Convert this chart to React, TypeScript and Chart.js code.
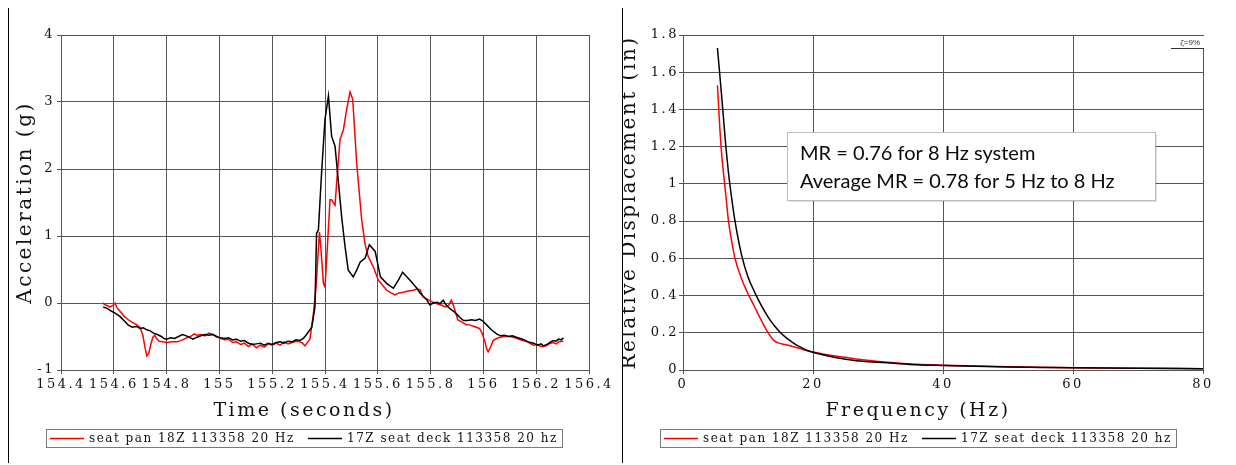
import { useEffect, useRef } from "react";
import { Chart, registerables } from "chart.js";

Chart.register(...registerables);

// ---------- data ----------
const seriesLabels = ["seat pan 18Z 113358 20 Hz", "17Z seat deck 113358 20 hz"];
const seriesColors = ["#ff0000", "#000000"];

// Left chart: acceleration (g) vs time (s) — seat pan (red)
const panTime = [
  154.558, 154.57, 154.585, 154.595, 154.605, 154.612, 154.625, 154.64, 154.655, 154.67,
  154.685, 154.7, 154.71, 154.718, 154.725, 154.732, 154.74, 154.748, 154.755, 154.762,
  154.772, 154.785, 154.8, 154.82, 154.84, 154.86, 154.875, 154.89, 154.905, 154.915,
  154.93, 154.945, 154.96, 154.975, 154.99, 155.005, 155.02, 155.035, 155.05, 155.065,
  155.08, 155.095, 155.11, 155.125, 155.14, 155.155, 155.17, 155.185, 155.2, 155.215,
  155.23, 155.245, 155.26, 155.275, 155.29, 155.305, 155.315, 155.324, 155.335, 155.343,
  155.356, 155.366, 155.379, 155.384, 155.394, 155.4, 155.409, 155.419, 155.425, 155.438,
  155.447, 155.457, 155.47, 155.482, 155.495, 155.505, 155.52, 155.539, 155.552, 155.564,
  155.583, 155.602, 155.615, 155.634, 155.65, 155.665, 155.68, 155.697, 155.715, 155.734,
  155.748, 155.76, 155.772, 155.79, 155.81, 155.825, 155.84, 155.855, 155.868, 155.878,
  155.885, 155.893, 155.903, 155.92, 155.934, 155.95, 155.965, 155.985, 155.995, 156.006,
  156.012, 156.018, 156.027, 156.037, 156.05, 156.063, 156.08, 156.1, 156.12, 156.14,
  156.16, 156.175, 156.19, 156.205, 156.218, 156.228, 156.24, 156.255, 156.265, 156.275,
  156.285, 156.303,
];
const panAccel = [
  0.0, -0.03, -0.06, -0.04, 0.0, -0.07, -0.13, -0.2, -0.25, -0.29,
  -0.32, -0.37, -0.48, -0.66, -0.79, -0.76, -0.62, -0.51, -0.48, -0.53,
  -0.57, -0.58, -0.59, -0.58, -0.58, -0.55, -0.52, -0.5, -0.46, -0.48,
  -0.47, -0.49, -0.45, -0.47, -0.51, -0.53, -0.55, -0.54, -0.59, -0.58,
  -0.62, -0.6, -0.65, -0.61, -0.67, -0.63, -0.66, -0.61, -0.63, -0.6,
  -0.63, -0.58, -0.61, -0.59, -0.57, -0.58, -0.6, -0.64, -0.58, -0.54,
  -0.16, 0.24, 1.06, 0.84, 0.29, 0.24, 0.84, 1.54, 1.54, 1.46,
  1.94, 2.44, 2.59, 2.89, 3.15, 3.04, 2.09, 1.24, 0.87, 0.69,
  0.54, 0.34, 0.28, 0.19, 0.15, 0.12, 0.15, 0.16, 0.18, 0.19,
  0.21, 0.2, 0.09, 0.05, 0.01, -0.01, -0.03, -0.06, -0.04, 0.04,
  -0.02, -0.12, -0.25, -0.29, -0.32, -0.33, -0.35, -0.38, -0.45, -0.58,
  -0.68, -0.73, -0.66, -0.56, -0.53, -0.51, -0.5, -0.5, -0.52, -0.55,
  -0.57, -0.6, -0.63, -0.62, -0.65, -0.65, -0.63, -0.6, -0.59, -0.61,
  -0.58, -0.57,
];
// seat deck (black)
const deckTime = [
  154.56, 154.575, 154.59, 154.605, 154.623, 154.64, 154.655, 154.67, 154.685, 154.7,
  154.712, 154.725, 154.74, 154.75, 154.765, 154.78, 154.79, 154.8, 154.815, 154.83,
  154.845, 154.86, 154.875, 154.89, 154.9, 154.915, 154.93, 154.945, 154.96, 154.975,
  154.99, 155.005, 155.02, 155.035, 155.05, 155.065, 155.08, 155.095, 155.11, 155.125,
  155.14, 155.155, 155.17, 155.185, 155.2, 155.215, 155.23, 155.245, 155.26, 155.275,
  155.29, 155.305, 155.318, 155.33, 155.35, 155.362, 155.368, 155.375, 155.387, 155.4,
  155.413, 155.425, 155.438, 155.45, 155.463, 155.476, 155.488, 155.507, 155.52, 155.533,
  155.552, 155.568, 155.59, 155.61, 155.634, 155.659, 155.678, 155.694, 155.722, 155.748,
  155.76, 155.772, 155.785, 155.797, 155.81, 155.825, 155.835, 155.848, 155.857, 155.866,
  155.876, 155.886, 155.9, 155.912, 155.924, 155.94, 155.955, 155.97, 155.985, 155.998,
  156.013, 156.03, 156.05, 156.065, 156.08, 156.095, 156.11, 156.125, 156.14, 156.155,
  156.17, 156.19, 156.205, 156.218, 156.228, 156.24, 156.255, 156.265, 156.275, 156.285,
  156.295, 156.303,
];
const deckAccel = [
  -0.06, -0.08, -0.12, -0.15, -0.2, -0.27, -0.33, -0.36, -0.35, -0.38,
  -0.37, -0.4, -0.42, -0.45, -0.47, -0.5, -0.53, -0.54, -0.52, -0.53,
  -0.5, -0.47, -0.49, -0.52, -0.54, -0.51, -0.49, -0.47, -0.48, -0.47,
  -0.5, -0.52, -0.53, -0.52, -0.55, -0.54, -0.57, -0.56, -0.6, -0.62,
  -0.61, -0.6, -0.63, -0.6, -0.62, -0.59, -0.58, -0.6, -0.57, -0.58,
  -0.55, -0.56, -0.53, -0.47, -0.36, -0.06, 1.04, 1.09, 1.94, 2.74,
  3.09, 2.49, 2.34, 1.84, 1.29, 0.84, 0.49, 0.39, 0.49, 0.61,
  0.67, 0.87, 0.77, 0.39, 0.29, 0.22, 0.34, 0.46, 0.34, 0.22,
  0.15, 0.1, 0.05, -0.03, 0.0, 0.01, -0.01, 0.04, -0.02, -0.06,
  -0.09, -0.12, -0.17, -0.22, -0.26, -0.26, -0.25, -0.26, -0.24, -0.27,
  -0.33, -0.4, -0.46, -0.49, -0.48, -0.5, -0.49, -0.51, -0.53, -0.55,
  -0.58, -0.6, -0.63, -0.61, -0.64, -0.62, -0.58, -0.56, -0.57, -0.54,
  -0.55, -0.52,
];

// Right chart: relative displacement (in) vs frequency (Hz)
const freqHz = [
  5.3, 5.7, 6, 6.5, 7, 7.5, 8, 9, 10, 11, 12, 13, 14, 15, 16, 17, 18, 19, 20, 22,
  25, 28, 32, 36, 40, 45, 50, 55, 60, 70, 80,
];
const panDisp = [
  1.53, 1.28, 1.14, 0.97, 0.8, 0.69, 0.6, 0.49, 0.41, 0.34, 0.27, 0.205, 0.158, 0.142, 0.134, 0.125, 0.115, 0.105, 0.097, 0.083,
  0.068, 0.054, 0.04, 0.031, 0.026, 0.021, 0.017, 0.015, 0.012, 0.009, 0.007,
];
const deckDisp = [
  1.73, 1.57, 1.45, 1.24, 1.06, 0.92, 0.8, 0.62, 0.5, 0.42, 0.35, 0.29, 0.24, 0.2, 0.17, 0.145, 0.124, 0.107, 0.095, 0.078,
  0.058, 0.046, 0.037, 0.028, 0.024, 0.02, 0.016, 0.014, 0.012, 0.009, 0.007,
];

// Ticks
const timeTicks = [154.4, 154.6, 154.8, 155, 155.2, 155.4, 155.6, 155.8, 156, 156.2, 156.4];
const accelTicks = [-1, 0, 1, 2, 3, 4];
const freqTicks = [0, 20, 40, 60, 80];
const dispTicks = [0, 0.2, 0.4, 0.6, 0.8, 1, 1.2, 1.4, 1.6, 1.8];

// Titles & annotations
const leftXTitle = "Time (seconds)";
const leftYTitle = "Acceleration (g)";
const rightXTitle = "Frequency (Hz)";
const rightYTitle = "Relative Displacement (in)";
const annotationLines = ["MR = 0.76 for 8 Hz system", "Average MR = 0.78 for 5 Hz to 8 Hz"];
const dampingLabel = "ζ=9%";

// ---------- styling helpers ----------
const SERIF = '"DejaVu Serif", serif';
const GRID = "#555555";
const TEXT = "#111111";
const fmt = (v: number) => String(Math.round(v * 10) / 10);

function makeExtras(cfg: { xTitle: string; annotation: boolean }) {
  return {
    id: "extras",
    beforeLayout(chart: any) {
      chart.ctx.letterSpacing = "2.5px";
    },
    beforeDraw(chart: any) {
      chart.ctx.letterSpacing = "2.5px";
    },
    afterDraw(chart: any) {
      const ctx = chart.ctx as CanvasRenderingContext2D & { letterSpacing: string };
      const ca = chart.chartArea;
      const cx = 295;
      ctx.save();
      // x-axis title
      ctx.letterSpacing = "2.5px";
      ctx.font = `19px ${SERIF}`;
      ctx.fillStyle = TEXT;
      ctx.textAlign = "center";
      ctx.textBaseline = "alphabetic";
      ctx.fillText(cfg.xTitle, cx, 408);

      // legend
      const w = 516;
      const h = 18;
      const lx = Math.round(cx - w / 2);
      const ly = 421;
      ctx.strokeStyle = "#7a7a7a";
      ctx.lineWidth = 1;
      ctx.strokeRect(lx + 0.5, ly + 0.5, w, h);
      ctx.letterSpacing = "1.5px";
      ctx.font = `12px ${SERIF}`;
      ctx.textAlign = "left";
      ctx.textBaseline = "middle";
      chart.data.datasets.forEach((ds: any, i: number) => {
        const ix = lx + 4 + i * 258;
        ctx.strokeStyle = ds.borderColor;
        ctx.lineWidth = 1.5;
        ctx.beginPath();
        ctx.moveTo(ix, ly + 9.5);
        ctx.lineTo(ix + 34, ly + 9.5);
        ctx.stroke();
        ctx.fillStyle = TEXT;
        ctx.fillText(ds.label, ix + 39, ly + 10);
      });

      if (cfg.annotation) {
        const xs = chart.scales.x;
        const ys = chart.scales.y;
        const bx0 = Math.round(xs.getPixelForValue(16));
        const bx1 = Math.round(xs.getPixelForValue(72.6));
        const by0 = Math.round(ys.getPixelForValue(1.28));
        const by1 = Math.round(ys.getPixelForValue(0.913));
        ctx.fillStyle = "rgba(0,0,0,0.12)";
        ctx.fillRect(bx0 + 2, by0 + 2, bx1 - bx0, by1 - by0);
        ctx.fillStyle = "#ffffff";
        ctx.fillRect(bx0, by0, bx1 - bx0, by1 - by0);
        ctx.strokeStyle = "#bdbdbd";
        ctx.lineWidth = 1;
        ctx.strokeRect(bx0 + 0.5, by0 + 0.5, bx1 - bx0, by1 - by0);
        ctx.letterSpacing = "0px";
        ctx.font = '20px Lato, "Open Sans", sans-serif';
        ctx.fillStyle = "#0a0a0a";
        ctx.textAlign = "left";
        ctx.textBaseline = "alphabetic";
        const tx = xs.getPixelForValue(18);
        ctx.fillText(annotationLines[0], tx, ys.getPixelForValue(1.131));
        ctx.fillText(annotationLines[1], tx, ys.getPixelForValue(0.978));

        // damping label in top-right corner
        ctx.fillStyle = "#ffffff";
        ctx.fillRect(Math.round(ca.right), Math.round(ca.top) + 1, 1, 12);
        ctx.font = '8px "Liberation Sans", sans-serif';
        ctx.fillStyle = "#333333";
        ctx.textAlign = "right";
        ctx.fillText(dampingLabel, ca.right - 3, ca.top + 10);
        ctx.strokeStyle = "#333333";
        ctx.beginPath();
        ctx.moveTo(ca.right - 32, Math.round(ca.top) + 13.5);
        ctx.lineTo(ca.right + 1, Math.round(ca.top) + 13.5);
        ctx.stroke();
      }
      ctx.restore();
    },
  };
}

function axis(
  ticksArr: number[],
  opts: { afterFit: (s: any) => void; tickPadding: number; title?: any }
) {
  return {
    type: "linear" as const,
    min: ticksArr[0],
    max: ticksArr[ticksArr.length - 1],
    afterBuildTicks: (s: any) => {
      s.ticks = ticksArr.map((v) => ({ value: v }));
    },
    afterFit: opts.afterFit,
    grid: { color: GRID, lineWidth: 1, tickLength: 4, drawTicks: true },
    border: { color: GRID, width: 1 },
    ticks: {
      autoSkip: false,
      maxRotation: 0,
      minRotation: 0,
      padding: opts.tickPadding,
      color: TEXT,
      font: { family: SERIF, size: 13 },
      callback: (v: any) => fmt(Number(v)),
    },
    title: opts.title || { display: false },
  };
}

function lineDataset(
  label: string,
  color: string,
  xs: number[],
  ys: number[],
  order: number,
  smooth: boolean
) {
  return {
    label,
    data: xs.map((x, i) => ({ x, y: ys[i] })),
    borderColor: color,
    backgroundColor: color,
    borderWidth: 1.5,
    pointRadius: 0,
    tension: smooth ? 0.4 : 0,
    cubicInterpolationMode: smooth ? "monotone" : "default",
    fill: false,
    order,
  };
}

function buildConfig(side: "left" | "right"): any {
  const isLeft = side === "left";
  const datasets = isLeft
    ? [
        lineDataset(seriesLabels[0], seriesColors[0], panTime, panAccel, 2, false),
        lineDataset(seriesLabels[1], seriesColors[1], deckTime, deckAccel, 1, false),
      ]
    : [
        lineDataset(seriesLabels[0], seriesColors[0], freqHz, panDisp, 2, true),
        lineDataset(seriesLabels[1], seriesColors[1], freqHz, deckDisp, 1, true),
      ];
  return {
    type: "line",
    data: { datasets },
    options: {
      responsive: false,
      animation: false,
      events: [],
      layout: { padding: { left: 0, right: 32, top: 27, bottom: 73 } },
      plugins: { legend: { display: false }, tooltip: { enabled: false } },
      scales: {
        x: axis(isLeft ? timeTicks : freqTicks, {
          afterFit: (s: any) => {
            s.height = 20;
          },
          tickPadding: 3,
        }),
        y: axis(isLeft ? accelTicks : dispTicks, {
          afterFit: (s: any) => {
            s.width = isLeft ? 52 : 60;
          },
          tickPadding: isLeft ? 2 : 0,
          title: {
            display: true,
            text: isLeft ? leftYTitle : rightYTitle,
            color: TEXT,
            font: { family: SERIF, size: 20, lineHeight: isLeft ? 1.15 : 0.7 },
            padding: { top: isLeft ? 5 : 0, bottom: 0 },
          },
        }),
      },
    },
    plugins: [makeExtras({ xTitle: isLeft ? leftXTitle : rightXTitle, annotation: !isLeft })],
  };
}

function ChartCanvas({ side, left }: { side: "left" | "right"; left: number }) {
  const ref = useRef<HTMLCanvasElement | null>(null);
  useEffect(() => {
    if (!ref.current) return;
    const chart = new Chart(ref.current, buildConfig(side));
    return () => chart.destroy();
  }, [side]);
  return (
    <canvas
      ref={ref}
      width={612}
      height={455}
      style={{ position: "absolute", left, top: 0, width: 612, height: 455 }}
    />
  );
}

export default function App() {
  return (
    <div style={{ position: "relative", width: 1228, height: 455, background: "#fff" }}>
      <div style={{ position: "absolute", left: 0, top: -1, width: 1228, height: 1, background: "#000" }} />
      <div style={{ position: "absolute", left: 0, top: -1, width: 1, height: 457, background: "#000" }} />
      <div style={{ position: "absolute", left: 614, top: -1, width: 1, height: 457, background: "#000" }} />
      <ChartCanvas side="left" left={1} />
      <ChartCanvas side="right" left={615} />
    </div>
  );
}
